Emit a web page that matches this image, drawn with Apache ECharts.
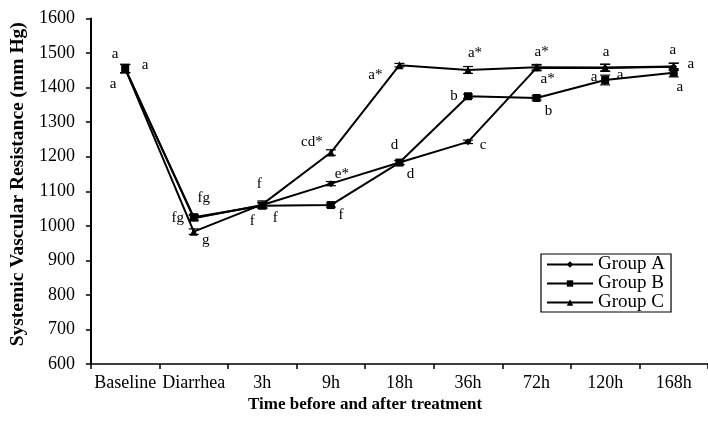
<!DOCTYPE html>
<html><head><meta charset="utf-8">
<script src="https://cdn.jsdelivr.net/npm/echarts@6/dist/echarts.min.js"></script>
<style>html,body{margin:0;padding:0;background:#fff}#c{width:708px;height:436px}</style>
</head><body><div id="c"></div>
<script>
var categories = ['Baseline','Diarrhea','3h','9h','18h','36h','72h','120h','168h'];
var groupA = [1455, 1022, 1060, 1122, 1183, 1243, 1457, 1457, 1460];
var groupB = [1455, 1025, 1058, 1060, 1183, 1375, 1370, 1422, 1443];
var groupC = [1455, 983, 1062, 1212, 1465, 1451, 1459, 1458, 1461];
var errA = [12, 8, 8, 6, 6, 5, 8, 10, 10];
var errB = [12, 8, 8, 6, 6, 6, 6, 14, 12];
var errC = [12, 8, 10, 8, 5, 10, 8, 10, 10];
var lettersA = ['a','fg','f','e*','d','c','a*','a','a'];
var lettersB = ['a','fg','f','f','d','b','b','a','a'];
var lettersC = ['a','g','f','cd*','a*','a*','a*','a','a'];
var yTicks = [600,700,800,900,1000,1100,1200,1300,1400,1500,1600];

// label pixel offsets (layout only)
var offA = [[-10,-15],[-16,0],[-10,16],[11,-10],[-5,-18],[15,3],[11,11],[15,7],[17,-3]];
var offB = [[20,-4],[10,-19],[13,12],[10,10],[11,11],[-14,0],[12,13],[-11,-3],[6,14]];
var offC = [[-12,15],[12,8],[-3,-20],[-19,-10],[-24,10],[7,-17],[5,-15],[1,-15],[-1,-16]];

var FONT = 'Liberation Serif';
function mk(vals, letters, offs){
  return vals.map(function(v,i){
    return {value:v, label:{show:true, formatter:letters[i], position:'inside', offset:offs[i]}};
  });
}
function errSeries(vals, errs){
  return {
    type:'custom', silent:true, z:3,
    data: vals.map(function(v,i){return [i, v-errs[i], v+errs[i]];}),
    renderItem:function(params, api){
      var lo = api.coord([api.value(0), api.value(1)]);
      var hi = api.coord([api.value(0), api.value(2)]);
      var w = 5;
      var st = {stroke:'#000', lineWidth:1.2};
      return {type:'group', children:[
        {type:'line', shape:{x1:lo[0],y1:lo[1],x2:hi[0],y2:hi[1]}, style:st},
        {type:'line', shape:{x1:lo[0]-w,y1:lo[1],x2:lo[0]+w,y2:lo[1]}, style:st},
        {type:'line', shape:{x1:hi[0]-w,y1:hi[1],x2:hi[0]+w,y2:hi[1]}, style:st}
      ]};
    }
  };
}
var lineLabel = {color:'#000', fontFamily:FONT, fontSize:15};
var chart = echarts.init(document.getElementById('c'));
chart.setOption({
  animation:false,
  backgroundColor:'#fff',
  textStyle:{fontFamily:FONT, color:'#000'},
  grid:{left:90, right:-3, top:18.5, bottom:72},
  legend:{
    orient:'vertical', left:541, top:254, width:131,
    borderColor:'#000', borderWidth:1.2, padding:[1,6,0,5],
    itemWidth:46, itemHeight:8, itemGap:0,
    textStyle:{fontFamily:FONT, fontSize:19, lineHeight:19, color:'#000'},
    data:['Group A','Group B','Group C']
  },
  xAxis:{
    type:'category', data:categories, boundaryGap:true,
    axisLine:{lineStyle:{color:'#000', width:1.5}},
    axisTick:{show:true, inside:false, length:5, lineStyle:{color:'#000', width:1.5}},
    axisLabel:{color:'#000', fontFamily:FONT, fontSize:18, margin:10, interval:0}
  },
  yAxis:{
    type:'value', min:600, max:1600, interval:100,
    name:'Systemic Vascular Resistance (mm Hg)', nameLocation:'middle', nameGap:54,
    nameTextStyle:{fontFamily:FONT, fontSize:19.5, fontWeight:'bold', color:'#000', padding:[0,0,0,14]},
    splitLine:{show:false},
    axisLine:{show:true, lineStyle:{color:'#000', width:2}},
    axisTick:{show:true, length:5, lineStyle:{color:'#000', width:1.5}},
    axisLabel:{color:'#000', fontFamily:FONT, fontSize:18, margin:16,
      formatter:function(v){return yTicks.indexOf(v)>=0? String(v):'';}}
  },
  graphic:[{type:'text', left:248, top:396, style:{text:'Time before and after treatment', font:'bold 17px "Liberation Serif"', fill:'#000'}}],
  series:[
    {name:'Group A', type:'line', data:mk(groupA, lettersA, offA), symbol:'diamond', symbolSize:7,
     lineStyle:{color:'#000', width:2}, itemStyle:{color:'#000'}, label:lineLabel, z:5},
    {name:'Group B', type:'line', data:mk(groupB, lettersB, offB), symbol:'rect', symbolSize:8,
     lineStyle:{color:'#000', width:2}, itemStyle:{color:'#000'}, label:lineLabel, z:5},
    {name:'Group C', type:'line', data:mk(groupC, lettersC, offC), symbol:'triangle', symbolSize:8,
     lineStyle:{color:'#000', width:2}, itemStyle:{color:'#000'}, label:lineLabel, z:5},
    errSeries(groupA, errA), errSeries(groupB, errB), errSeries(groupC, errC)
  ]
});
</script></body></html>
